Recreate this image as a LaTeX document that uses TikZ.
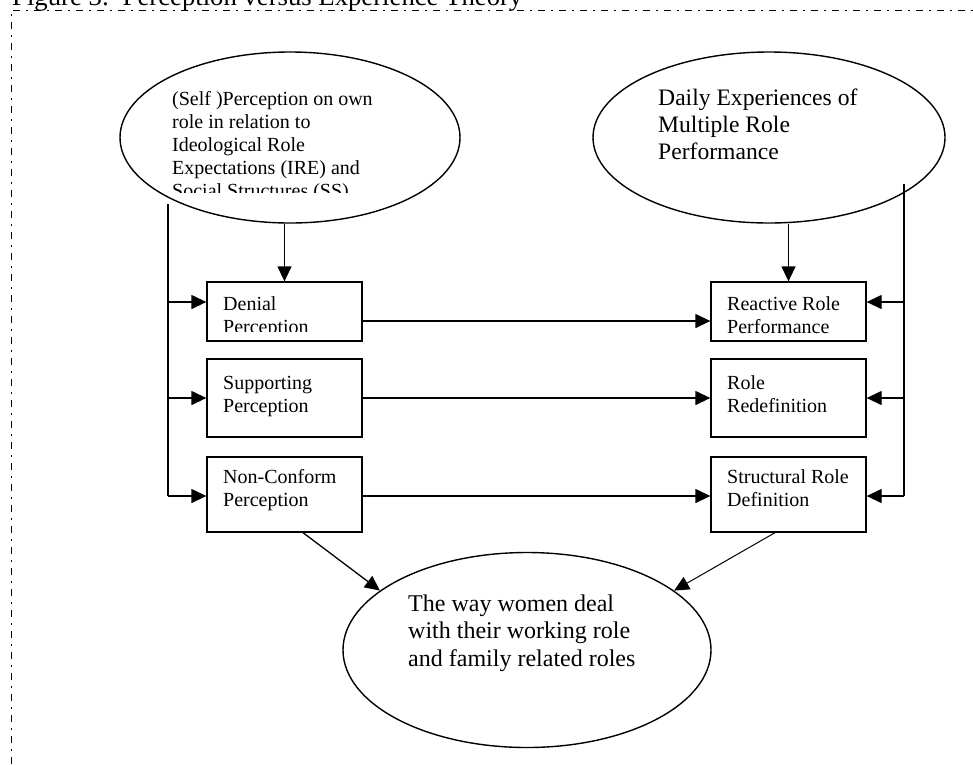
\documentclass[tikz,border=0pt]{standalone}
\usepackage{fontspec}
\setmainfont{Liberation Serif}
\usetikzlibrary{arrows.meta,shapes.geometric}
\begin{document}
\begin{tikzpicture}[x=1pt,y=-1pt,
  ell/.style={draw,ellipse,line width=1.4pt,inner sep=0pt},
  box/.style={draw,rectangle,line width=1.3pt,inner sep=0pt,minimum width=155pt},
  txt/.style={anchor=base west,align=left,inner sep=0pt},
  conn/.style={line width=1.3pt,-{Triangle[length=15pt,width=14pt]}},
  bus/.style={line width=1.3pt},
  frm/.style={line width=1pt,dash pattern=on 7pt off 6pt on 2pt off 6pt},
  fA/.style={font=\fontsize{20pt}{23pt}\selectfont},
  fB/.style={font=\fontsize{23.6pt}{27pt}\selectfont},
  fC/.style={font=\fontsize{24pt}{27.5pt}\selectfont}]
\useasboundingbox (0,0) rectangle (973,764);

% frame and title
\coordinate (fb) at (11,764);
\coordinate (fc) at (11,10);
\coordinate (fr) at (973,10);
\draw[frm] (fb) -- (fc) -- (fr);
\node[txt,font=\fontsize{26.7pt}{30pt}\selectfont] (title) at (12,5) {Figure 3:\ \ Perception versus Experience Theory};

% ellipses
\node[ell,minimum width=340pt,minimum height=171pt] (L) at (290,137.5) {};
\node[ell,minimum width=352pt,minimum height=171pt] (R) at (769,137.5) {};
\node[ell,minimum width=368pt,minimum height=195pt] (W) at (527,650) {};

% texts (anchor = baseline of last line)
\begin{scope}
\clip (100,40) rectangle (470,192);
\node[txt,fA] (Lt) at (172,197) {(Self )Perception on own\\role in relation to\\Ideological Role\\Expectations (IRE) and\\Social Structures (SS)};
\end{scope}
\node[txt,fB] (Rt) at (658,159) {Daily Experiences of\\Multiple Role\\Performance};
\node[txt,fC] (Wt) at (408,666) {The way women deal\\with their working role\\and family related roles};

% boxes
\node[box,minimum height=59pt] (D) at (284.5,311.5) {};
\node[box,minimum height=78pt] (S) at (284.5,398) {};
\node[box,minimum height=75pt] (N) at (284.5,494.5) {};
\node[box,minimum height=59pt] (P) at (788.5,311.5) {};
\node[box,minimum height=78pt] (Q) at (788.5,398) {};
\node[box,minimum height=75pt] (T) at (788.5,494.5) {};

\begin{scope}
\clip (200,280) rectangle (370,331.5);
\node[txt,fA] (Dt) at (223,333) {Denial\\Perception};
\end{scope}
\node[txt,fA] (St) at (223,412) {Supporting\\Perception};
\node[txt,fA] (Nt) at (223,506) {Non-Conform\\Perception};
\node[txt,fA] (Pt) at (727,333) {Reactive Role\\Performance};
\node[txt,fA] (Qt) at (727,412) {Role\\Redefinition};
\node[txt,fA] (Tt) at (727,506) {Structural Role\\Definition};

% top-down arrows
\draw[conn] (D.north |- L.south) -- (D.north);
\draw[conn] (P.north |- R.south) -- (P.north);

% left bus
\coordinate (lt) at (168,204);
\coordinate (lb) at (168,496);
\draw[bus] (lt) -- (lb);
\draw[conn] ([yshift=9.5pt]D.west -| lt) -- ([yshift=9.5pt]D.west);
\draw[conn] (S.west -| lt) -- (S.west);
\draw[conn] (lb) -- (lb -| N.west);

% right bus
\coordinate (rt) at (904,184);
\coordinate (rb) at (904,496);
\draw[bus] (rt) -- (rb);
\draw[conn] ([yshift=9.5pt]P.east -| rt) -- ([yshift=9.5pt]P.east);
\draw[conn] (Q.east -| rt) -- (Q.east);
\draw[conn] (rb) -- (rb -| T.east);

% horizontal arrows
\draw[conn] ([yshift=-9.5pt]D.east) -- ([yshift=-9.5pt]P.west);
\draw[conn] (S.east) -- (Q.west);
\draw[conn] (lb -| N.east) -- (lb -| T.west);

% diagonals
\draw[conn] ([xshift=18.5pt]N.south) -- (W.158);
\draw[conn,line width=1pt] ([xshift=-13.5pt]T.south) -- (W.22);
\end{tikzpicture}
\end{document}
